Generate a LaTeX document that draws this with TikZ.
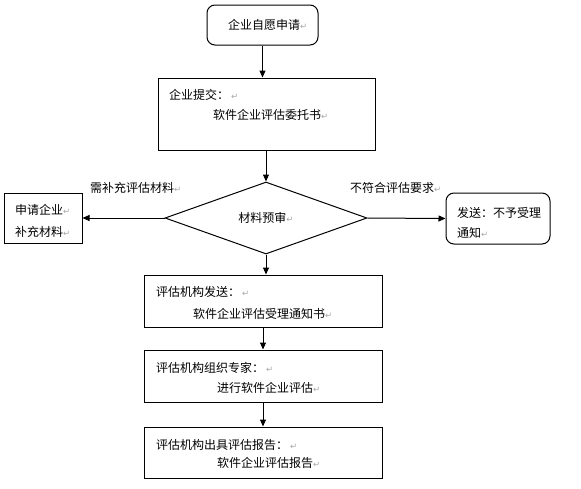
\documentclass[tikz,border=0pt]{standalone}
\usepackage{fontspec}
\setmainfont{Noto Sans CJK SC}
\newfontfamily\dejavu{DejaVu Sans}
\usetikzlibrary{arrows.meta,shapes.geometric}
\newcommand{\pmark}{{\dejavu\fontsize{8.5}{8.5}\selectfont\color{black!35}↵}}
\begin{document}
\begin{tikzpicture}[x=1pt,y=-1pt,
  box/.style={draw, line width=1pt, inner sep=0pt},
  rbox/.style={box, rounded corners=8pt},
  txt/.style={anchor=west, inner sep=0pt, font=\fontsize{12}{14}\selectfont},
  arr/.style={line width=1pt, -{Triangle[length=7pt,width=6pt]}}]
\useasboundingbox (0,0) rectangle (581,488);
% boxes
\node[rbox, minimum width=111pt, minimum height=40pt] (start) at (262.5,25) {};
\node[box, minimum width=217pt, minimum height=72pt] (submit) at (266.5,114) {};
\node[box, minimum width=78pt, minimum height=50pt] (left) at (43,218) {};
\node[rbox, minimum width=104pt, minimum height=51pt] (right) at (498,218.5) {};
\node[draw, line width=1pt, diamond, inner sep=0pt, minimum width=202pt, minimum height=72pt,
      font=\fontsize{12}{14}\selectfont] (dia) at (266,218) {材料预审\pmark};
\node[box, minimum width=238pt, minimum height=52pt] (b3) at (263,301) {};
\node[box, minimum width=238pt, minimum height=52pt] (b4) at (263,376) {};
\node[box, minimum width=238pt, minimum height=51pt] (b5) at (263,452.5) {};
% texts
\node[txt] (t0) at (228,25) {企业自愿申请\pmark};
\node[txt] (t1a) at (169,95) {企业提交：\,\pmark};
\node[txt] (t1b) at (213,115) {软件企业评估委托书\pmark};
\node[txt] (lbl1) at (90,188) {需补充评估材料\pmark};
\node[txt] (tl1) at (15,210) {申请企业\pmark};
\node[txt] (tl2) at (15,232) {补充材料\pmark};
\node[txt] (lbl2) at (350,188) {不符合评估要求\pmark};
\node[txt] (tr1) at (457,213) {发送：不予受理};
\node[txt] (tr2) at (457,233) {通知\pmark};
\node[txt] (t3a) at (156,292) {评估机构发送：\,\pmark};
\node[txt] (t3b) at (193,314) {软件企业评估受理通知书\pmark};
\node[txt] (t4a) at (156,368) {评估机构组织专家：\,\pmark};
\node[txt] (t4b) at (217,388) {进行软件企业评估\pmark};
\node[txt] (t5a) at (156,445) {评估机构出具评估报告：\,\pmark};
\node[txt] (t5b) at (217,463) {软件企业评估报告\pmark};
% connectors
\draw[arr] (start.south) -- (start.south |- submit.north);
\draw[arr] (dia.north |- submit.south) -- (dia.north);
\draw[arr] (dia.south) -- (dia.south |- b3.north);
\draw[arr] (b3.south) -- (b4.north);
\draw[arr] (b4.south) -- (b5.north);
\draw[arr] (dia.west) -- (left.east);
\draw[arr] (dia.east) -- (right.west);
\end{tikzpicture}
\end{document}
